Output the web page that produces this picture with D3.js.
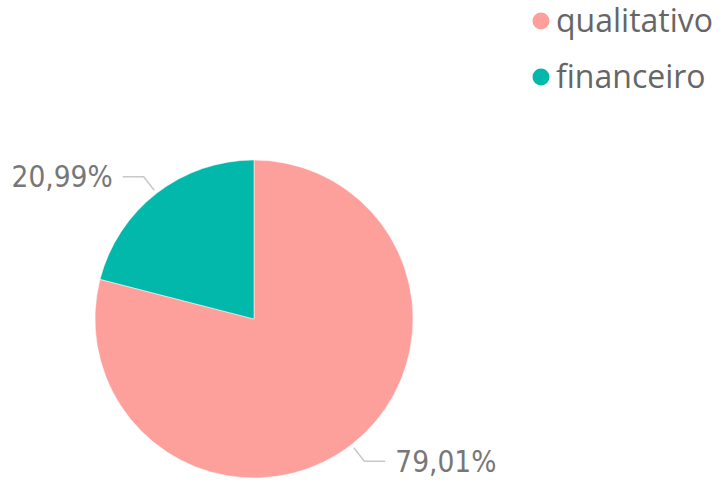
<!DOCTYPE html>
<html>
<head>
<meta charset="utf-8">
<script src="https://cdn.jsdelivr.net/npm/d3@7"></script>
<style>
  body { margin: 0; background: #fff; }
  svg { display: block; }
</style>
</head>
<body>
<svg id="chart" width="725" height="482"></svg>
<script>
'use strict';

var categories = ['qualitativo', 'financeiro']
var shares = [79.01, 20.99]
var labels = ['79,01%', '20,99%']
var colors = ['#FD9F9B', '#01B8AA']

var svg = d3.select('#chart')
var cx = 254
var cy = 319
var radius = 159

var color = d3.scaleOrdinal().domain(categories).range(colors)

var pie = d3.pie().sort(null).value(function(d) { return d.value })
var slices = pie(categories.map(function(c, i) {
    return { name: c, value: shares[i], label: labels[i] }
}))

var arc = d3.arc().innerRadius(0).outerRadius(radius)

var g = svg.append('g').attr('transform', 'translate(' + cx + ',' + cy + ')')

g.selectAll('path.slice')
    .data(slices)
    .enter().append('path')
    .attr('class', 'slice')
    .attr('d', arc)
    .attr('fill', function(d) { return color(d.data.name) })
    .attr('stroke', '#fff')
    .attr('stroke-width', 0.5)

// leader lines + labels
function pointAt(angle, r) {
    return [Math.sin(angle) * r, -Math.cos(angle) * r]
}

slices.forEach(function(d) {
    var mid = (d.startAngle + d.endAngle) / 2
    var p0 = pointAt(mid, radius + 4)
    var p1 = pointAt(mid, radius + 21)
    var side = Math.sin(mid) < 0 ? -1 : 1
    var p2 = [p1[0] + side * 21, p1[1]]

    g.append('polyline')
        .attr('points', [p0, p1, p2].map(function(p) { return p.join(',') }).join(' '))
        .attr('fill', 'none')
        .attr('stroke', '#c8c8c8')
        .attr('stroke-width', 1.5)

    g.append('text')
        .attr('x', p2[0] + side * 10)
        .attr('y', p2[1])
        .attr('dy', '0.36em')
        .attr('text-anchor', side < 0 ? 'end' : 'start')
        .attr('font-family', '"DejaVu Sans Condensed", "DejaVu Sans", sans-serif')
        .attr('font-size', 29.5)
        .attr('fill', '#777777')
        .text(d.data.label)
})

// legend
var legend = svg.append('g')
    .selectAll('g')
    .data(categories)
    .enter().append('g')
    .attr('transform', function(d, i) { return 'translate(541,' + (21 + i * 56) + ')' })

legend.append('circle')
    .attr('r', 8.5)
    .attr('fill', function(d) { return color(d) })

legend.append('text')
    .attr('x', 15)
    .attr('dy', '0.33em')
    .attr('font-family', '"Open Sans", "Noto Sans", sans-serif')
    .attr('font-size', 32)
    .attr('fill', '#666666')
    .text(function(d) { return d })
</script>
</body>
</html>
